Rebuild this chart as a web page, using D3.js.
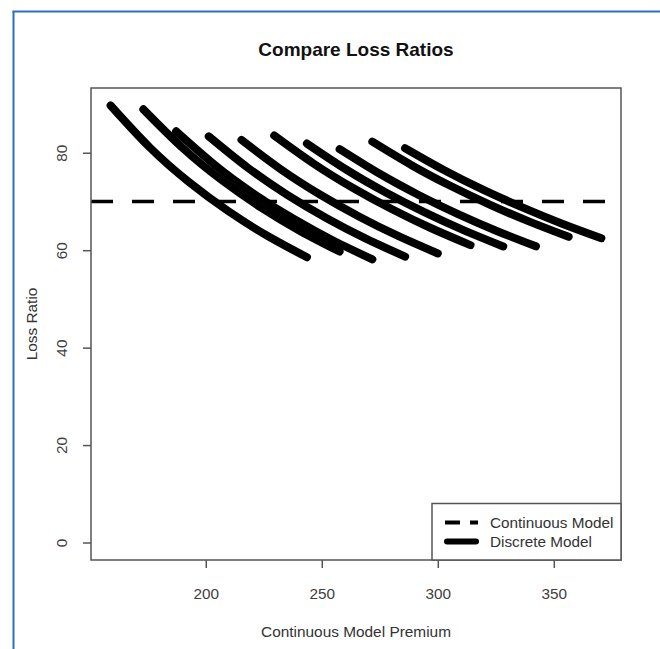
<!DOCTYPE html>
<html><head><meta charset="utf-8">
<script src="https://cdn.jsdelivr.net/npm/d3@7"></script>
<style>html,body{margin:0;padding:0;background:#fff;} svg{display:block;}</style>
</head><body>
<svg id="chart" width="660" height="649"></svg>
<script>
// Discrete model curves: premium (x) and loss ratio (y)
const premiums = [
  [159.0, 175.9, 192.8, 209.8, 226.7, 243.6],
  [173.1, 190.0, 206.9, 223.9, 240.8, 257.7],
  [187.2, 204.1, 221.0, 238.0, 254.9, 271.8],
  [201.3, 218.2, 235.1, 252.1, 269.0, 285.9],
  [215.4, 232.3, 249.2, 266.2, 283.1, 300.0],
  [229.5, 246.4, 263.3, 280.3, 297.2, 314.1],
  [243.6, 260.5, 277.4, 294.4, 311.3, 328.2],
  [257.7, 274.6, 291.5, 308.5, 325.4, 342.3],
  [271.8, 288.7, 305.6, 322.6, 339.5, 356.4],
  [285.9, 302.8, 319.7, 336.7, 353.6, 370.5]
];
const lossRatios = [
  [89.70, 81.08, 73.97, 67.98, 62.91, 58.55],
  [88.91, 81.00, 74.38, 68.74, 63.91, 59.72],
  [84.40, 77.41, 71.49, 66.39, 61.99, 58.13],
  [83.36, 76.90, 71.37, 66.56, 62.38, 58.69],
  [82.64, 76.62, 71.43, 66.87, 62.87, 59.33],
  [83.53, 77.80, 72.81, 68.39, 64.50, 61.03],
  [81.88, 76.56, 71.90, 67.75, 64.07, 60.77],
  [80.75, 75.78, 71.39, 67.45, 63.95, 60.79],
  [82.27, 77.45, 73.17, 69.31, 65.86, 62.74],
  [80.94, 76.42, 72.38, 68.73, 65.44, 62.46]
];
const continuousLossRatio = 70;
const xTickValues = [200, 250, 300, 350];
const yTickValues = [0, 20, 40, 60, 80];
const legendLabels = ["Continuous Model", "Discrete Model"];
const chartTitle = "Compare Loss Ratios";
const xLabel = "Continuous Model Premium";
const yLabel = "Loss Ratio";

const FONT = "'Liberation Sans', Arial, Helvetica, sans-serif";
const svg = d3.select("#chart");
const plot = {left: 91, right: 621, top: 88, bottom: 560};

const allX = premiums.flat(), allY = lossRatios.flat();
const xMin = d3.min(allX), xMax = d3.max(allX);
const yMin = 0, yMax = d3.max(allY);
const padX = (xMax - xMin) * 0.04, padY = (yMax - yMin) * 0.04;
const x = d3.scaleLinear().domain([xMin - padX, xMax + padX]).range([plot.left, plot.right]);
const y = d3.scaleLinear().domain([yMin - padY, yMax + padY]).range([plot.bottom, plot.top]);

// outer blue frame (top and left edges)
svg.append("line").attr("x1", 13.5).attr("x2", 13.5).attr("y1", 11).attr("y2", 649)
  .attr("stroke", "#2a6fc4").attr("stroke-width", 2);
svg.append("line").attr("x1", 12.5).attr("x2", 660).attr("y1", 11.5).attr("y2", 11.5)
  .attr("stroke", "#2a6fc4").attr("stroke-width", 2);

// clip
svg.append("defs").append("clipPath").attr("id", "plotclip")
  .append("rect").attr("x", plot.left).attr("y", plot.top)
  .attr("width", plot.right - plot.left).attr("height", plot.bottom - plot.top);

// curves
const line = d3.line().x(d => d[0]).y(d => d[1]).curve(d3.curveNatural);
const gCurves = svg.append("g");
premiums.forEach((xs, k) => {
  const pts = xs.map((v, i) => [x(v), y(lossRatios[k][i])]);
  gCurves.append("path").attr("d", line(pts))
    .attr("fill", "none").attr("stroke", "#000").attr("stroke-width", 8)
    .attr("stroke-linecap", "round").attr("stroke-linejoin", "round");
});

// continuous model dashed line
svg.append("line").attr("clip-path", "url(#plotclip)")
  .attr("x1", x.range()[0]).attr("x2", x.range()[1])
  .attr("y1", y(continuousLossRatio)).attr("y2", y(continuousLossRatio))
  .attr("stroke", "#000").attr("stroke-width", 3.5).attr("stroke-dasharray", "22,19");

// axes
const axisColor = "#555";
const gx = svg.append("g").attr("transform", `translate(0,${plot.bottom})`)
  .call(d3.axisBottom(x).tickValues(xTickValues).tickSize(8).tickPadding(20).tickFormat(d3.format("d")));
gx.select(".domain").remove();
gx.selectAll("line").attr("stroke", axisColor).attr("stroke-width", 1.5);
gx.selectAll("text").attr("font-family", FONT).attr("font-size", 15.3).attr("fill", "#404040");

const gy = svg.append("g").attr("transform", `translate(${plot.left},0)`)
  .call(d3.axisLeft(y).tickValues(yTickValues).tickSize(8).tickFormat(d3.format("d")));
gy.select(".domain").remove();
gy.selectAll("line").attr("stroke", axisColor).attr("stroke-width", 1.5);
gy.selectAll("text").attr("x", 0).attr("dy", 0).attr("text-anchor", "middle")
  .attr("transform", "translate(-24,0) rotate(-90)")
  .attr("font-family", FONT).attr("font-size", 15.3).attr("fill", "#404040");

// box
svg.append("rect").attr("x", plot.left).attr("y", plot.top)
  .attr("width", plot.right - plot.left).attr("height", plot.bottom - plot.top)
  .attr("fill", "none").attr("stroke", axisColor).attr("stroke-width", 1.5);

// title and axis labels
svg.append("text").attr("x", (plot.left + plot.right) / 2).attr("y", 56)
  .attr("text-anchor", "middle").attr("font-family", FONT).attr("font-size", 19)
  .attr("font-weight", "bold").attr("fill", "#111").text(chartTitle);
svg.append("text").attr("x", (plot.left + plot.right) / 2).attr("y", 637)
  .attr("text-anchor", "middle").attr("font-family", FONT).attr("font-size", 15.4)
  .attr("fill", "#333").text(xLabel);
svg.append("text").attr("transform", `translate(37,${(plot.top + plot.bottom) / 2}) rotate(-90)`)
  .attr("text-anchor", "middle").attr("font-family", FONT).attr("font-size", 15.4)
  .attr("fill", "#333").text(yLabel);

// legend
const lg = svg.append("g");
lg.append("rect").attr("x", 432).attr("y", 503.5).attr("width", plot.right - 432).attr("height", plot.bottom - 503.5)
  .attr("fill", "#fff").attr("stroke", axisColor).attr("stroke-width", 1.5);
lg.append("line").attr("x1", 445).attr("x2", 478).attr("y1", 522.5).attr("y2", 522.5)
  .attr("stroke", "#000").attr("stroke-width", 4).attr("stroke-dasharray", "15,10");
lg.append("line").attr("x1", 447).attr("x2", 476).attr("y1", 541.5).attr("y2", 541.5)
  .attr("stroke", "#000").attr("stroke-width", 6).attr("stroke-linecap", "round");
legendLabels.forEach((t, i) => {
  lg.append("text").attr("x", 490).attr("y", 527.5 + i * 19)
    .attr("font-family", FONT).attr("font-size", 15.3).attr("fill", "#333").text(t);
});
</script>
</body></html>
